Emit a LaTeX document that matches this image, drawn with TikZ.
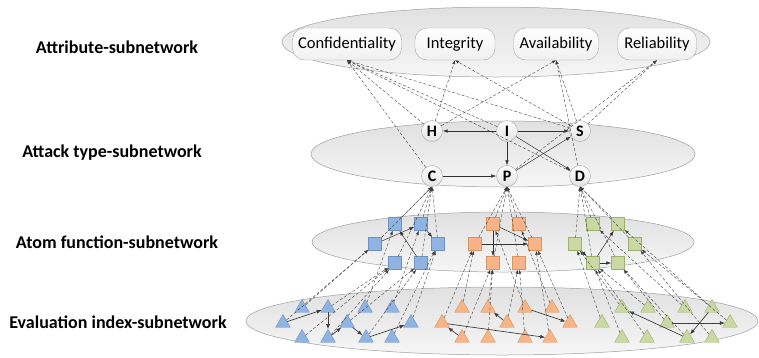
\documentclass[tikz,border=0pt]{standalone}
\usepackage{fontspec}
\setmainfont{Carlito}
\usetikzlibrary{arrows.meta,shapes.geometric}

\definecolor{bluefill}{HTML}{8FB4E2}
\definecolor{blueline}{HTML}{6F93C0}
\definecolor{orangefill}{HTML}{F6B488}
\definecolor{orangeline}{HTML}{D9955F}
\definecolor{greenfill}{HTML}{CAD9A3}
\definecolor{greenline}{HTML}{9DB06E}

\tikzset{
  layer/.style={draw=gray!75, line width=0.5pt, top color=gray!24, bottom color=gray!7},
  layerlabel/.style={font=\fontsize{18}{20}\selectfont\bfseries, anchor=center},
  attrbox/.style={draw=gray!70, rounded corners=12pt, top color=white, bottom color=gray!12,
    minimum height=32pt, font=\fontsize{16.5}{18}\selectfont, inner sep=0pt},
  attacknode/.style={circle, draw=gray!70, top color=white, bottom color=gray!22,
    minimum size=21pt, inner sep=0pt, font=\fontsize{16}{17}\selectfont\bfseries},
  atombox/.style={draw=#1line, fill=#1fill, minimum size=13pt, inner sep=0pt},
  evaltri/.style={regular polygon, regular polygon sides=3, draw=#1line, fill=#1fill,
    minimum size=17pt, inner sep=0pt},
  dashlink/.style={dashed, dash pattern=on 3pt off 2pt, black!75, line width=0.4pt,
    -{Latex[length=4pt,width=3pt]}},
  solidlink/.style={black!80, line width=0.5pt, -{Latex[length=5pt,width=3.5pt]}},
  evallink/.style={black!75, line width=0.7pt, -{Latex[length=5pt,width=4pt]}}
}

\begin{document}
\begin{tikzpicture}[x=1pt,y=-1pt]
\useasboundingbox (0,0) rectangle (759,357);

%layer ellipses
\draw[layer] (496,42) ellipse [x radius=214pt, y radius=35pt];
\draw[layer] (503,154) ellipse [x radius=192pt, y radius=33pt];
\draw[layer] (503,242) ellipse [x radius=191pt, y radius=30pt];
\draw[layer] (502,321) ellipse [x radius=256pt, y radius=34pt];

%layer names
\node (attrlabel) at (117,47) [layerlabel] {Attribute-subnetwork};
\node (attacklabel) at (112,153) [layerlabel] {Attack type-subnetwork};
\node (atomlabel) at (117,242) [layerlabel] {Atom function-subnetwork};
\node (evallabel) at (118,322) [layerlabel] {Evaluation index-subnetwork};

%attributes
\node (conf) at (347,44) [attrbox, minimum width=109pt] {Confidentiality};
\node (integ) at (455,44) [attrbox, minimum width=80pt] {Integrity};
\node (avail) at (556,44) [attrbox, minimum width=85pt] {Availability};
\node (relia) at (657,44) [attrbox, minimum width=79pt] {Reliability};

%attack types
\node (h) at (432,131) [attacknode] {H};
\node (i) at (507,131) [attacknode] {I};
\node (s) at (580,131) [attacknode] {S};
\node (c) at (432,176) [attacknode] {C};
\node (p) at (507,176) [attacknode] {P};
\node (d) at (580,176) [attacknode] {D};

%atom functions (blue)
\node (b1) at (395,224) [atombox=blue] {};
\node (b2) at (421,224) [atombox=blue] {};
\node (b3) at (375,244) [atombox=blue] {};
\node (b4) at (438,244) [atombox=blue] {};
\node (b5) at (395,263) [atombox=blue] {};
\node (b6) at (421,263) [atombox=blue] {};

%atom functions (orange)
\node (o1) at (493,224) [atombox=orange] {};
\node (o2) at (519,224) [atombox=orange] {};
\node (o3) at (475,244) [atombox=orange] {};
\node (o4) at (535,244) [atombox=orange] {};
\node (o5) at (493,263) [atombox=orange] {};
\node (o6) at (519,263) [atombox=orange] {};

%atom functions (green)
\node (g1) at (593,224) [atombox=green] {};
\node (g2) at (618,224) [atombox=green] {};
\node (g3) at (575,244) [atombox=green] {};
\node (g4) at (635,244) [atombox=green] {};
\node (g5) at (593,263) [atombox=green] {};
\node (g6) at (618,263) [atombox=green] {};

%evaluation indexes (blue)
\node (bt1) at (302,308) [evaltri=blue] {};
\node (bt2) at (328,308) [evaltri=blue] {};
\node (bt3) at (365,308) [evaltri=blue] {};
\node (bt4) at (392,308) [evaltri=blue] {};
\node (bm1) at (283,323) [evaltri=blue] {};
\node (bm2) at (347,323) [evaltri=blue] {};
\node (bm3) at (411,323) [evaltri=blue] {};
\node (bb1) at (302,338) [evaltri=blue] {};
\node (bb2) at (328,338) [evaltri=blue] {};
\node (bb3) at (366,338) [evaltri=blue] {};
\node (bb4) at (392,338) [evaltri=blue] {};

%evaluation indexes (orange)
\node (ot1) at (462,308) [evaltri=orange] {};
\node (ot2) at (488,308) [evaltri=orange] {};
\node (ot3) at (525,308) [evaltri=orange] {};
\node (ot4) at (552,308) [evaltri=orange] {};
\node (om1) at (442,323) [evaltri=orange] {};
\node (om2) at (507,323) [evaltri=orange] {};
\node (om3) at (570,323) [evaltri=orange] {};
\node (ob1) at (462,338) [evaltri=orange] {};
\node (ob2) at (488,338) [evaltri=orange] {};
\node (ob3) at (525,338) [evaltri=orange] {};
\node (ob4) at (550,338) [evaltri=orange] {};

%evaluation indexes (green)
\node (gt1) at (622,308) [evaltri=green] {};
\node (gt2) at (648,308) [evaltri=green] {};
\node (gt3) at (685,308) [evaltri=green] {};
\node (gt4) at (712,308) [evaltri=green] {};
\node (gm1) at (602,323) [evaltri=green] {};
\node (gm2) at (667,323) [evaltri=green] {};
\node (gm3) at (730,323) [evaltri=green] {};
\node (gb1) at (622,338) [evaltri=green] {};
\node (gb2) at (647,338) [evaltri=green] {};
\node (gb3) at (687,338) [evaltri=green] {};
\node (gb4) at (712,338) [evaltri=green] {};

%attack types -> attributes
\draw[dashlink] (c) -- (conf.south);
\draw[dashlink] (h) -- (conf.south);
\draw[dashlink] (h) -- (integ.south);
\draw[dashlink] (h) -- (avail.south);
\draw[dashlink] (i) -- (conf.south);
\draw[dashlink] (s) -- (conf.south);
\draw[dashlink] (s) -- (integ.south);
\draw[dashlink] (s) -- (avail.south);
\draw[dashlink] (s) -- (relia.south);
\draw[dashlink] (d) -- (conf.south);
\draw[dashlink] (d) -- (avail.south);
\draw[dashlink] (p) -- (relia.south);

%inside attack layer
\draw[solidlink] (i) -- (h);
\draw[solidlink] (i) -- (s);
\draw[solidlink] (i) -- (p);
\draw[solidlink] (i) -- (d);
\draw[solidlink] (c) -- (p);
\draw[solidlink] (p) -- (s);

%atom functions -> attack types
\draw[dashlink] (b1) -- (c.south);
\draw[dashlink] (b2) -- (c.south);
\draw[dashlink] (b3) -- (c.south);
\draw[dashlink] (b4) -- (c.south);
\draw[dashlink] (b5) -- (c.south);
\draw[dashlink] (b6) -- (c.south);
\draw[dashlink] (o1) -- (p.south);
\draw[dashlink] (o2) -- (p.south);
\draw[dashlink] (o3) -- (p.south);
\draw[dashlink] (o4) -- (p.south);
\draw[dashlink] (o5) -- (p.south);
\draw[dashlink] (o6) -- (p.south);
\draw[dashlink] (g1) -- (d.south);
\draw[dashlink] (g2) -- (d.south);
\draw[dashlink] (g3) -- (d.south);
\draw[dashlink] (g4) -- (d.south);
\draw[dashlink] (g5) -- (d.south);
\draw[dashlink] (g6) -- (d.south);

%inside atom layer
\draw[solidlink] (b3) -- (b2);
\draw[solidlink] (b6) -- (b1);
\draw[solidlink] (b2) -- (b4);
\draw[solidlink] (o1) -- (o5);
\draw[solidlink] (o1) -- (o4);
\draw[solidlink] (o3) -- (o4);
\draw[solidlink] (g3) -- (g5);
\draw[solidlink] (g5) -- (g2);
\draw[solidlink] (g5) -- (g6);

%evaluation indexes -> atom functions
\draw[dashlink] (bt1) -- (b3);
\draw[dashlink] (bm1) -- (b3);
\draw[dashlink] (bb1) -- (b5);
\draw[dashlink] (bt2) -- (b5);
\draw[dashlink] (bb2) -- (b5);
\draw[dashlink] (bm2) -- (b6);
\draw[dashlink] (bt3) -- (b1);
\draw[dashlink] (bb3) -- (b6);
\draw[dashlink] (bt4) -- (b2);
\draw[dashlink] (bm3) -- (b4);
\draw[dashlink] (bb4) -- (b4);

\draw[dashlink] (ot1) -- (o3);
\draw[dashlink] (om1) -- (o3);
\draw[dashlink] (ob1) -- (o5);
\draw[dashlink] (ot2) -- (o5);
\draw[dashlink] (ob2) -- (o5);
\draw[dashlink] (om2) -- (o6);
\draw[dashlink] (ot3) -- (o1);
\draw[dashlink] (ob3) -- (o6);
\draw[dashlink] (ot4) -- (o2);
\draw[dashlink] (om3) -- (o4);
\draw[dashlink] (ob4) -- (o4);

\draw[dashlink] (gt1) -- (g3);
\draw[dashlink] (gm1) -- (g3);
\draw[dashlink] (gb1) -- (g5);
\draw[dashlink] (gt2) -- (g5);
\draw[dashlink] (gb2) -- (g5);
\draw[dashlink] (gm2) -- (g6);
\draw[dashlink] (gt3) -- (g1);
\draw[dashlink] (gb3) -- (g6);
\draw[dashlink] (gt4) -- (g2);
\draw[dashlink] (gm3) -- (g4);
\draw[dashlink] (gb4) -- (g4);

%inside evaluation layer
\draw[evallink] (bm1) -- (bt2);
\draw[evallink] (bt2) -- (bb2);
\draw[evallink] (bb2) -- (bm2);
\draw[evallink] (bm2) -- (bb3);
\draw[evallink] (bb3) -- (bm3);
\draw[evallink] (ob1) -- (om1);
\draw[evallink] (om1) -- (ob4);
\draw[evallink] (om2) -- (ot2);
\draw[evallink] (ot3) -- (om3);
\draw[evallink] (gb3) -- (gt1);
\draw[evallink] (gm2) -- (gm3);
\draw[evallink] (gt4) -- (gb3);

\end{tikzpicture}
\end{document}
